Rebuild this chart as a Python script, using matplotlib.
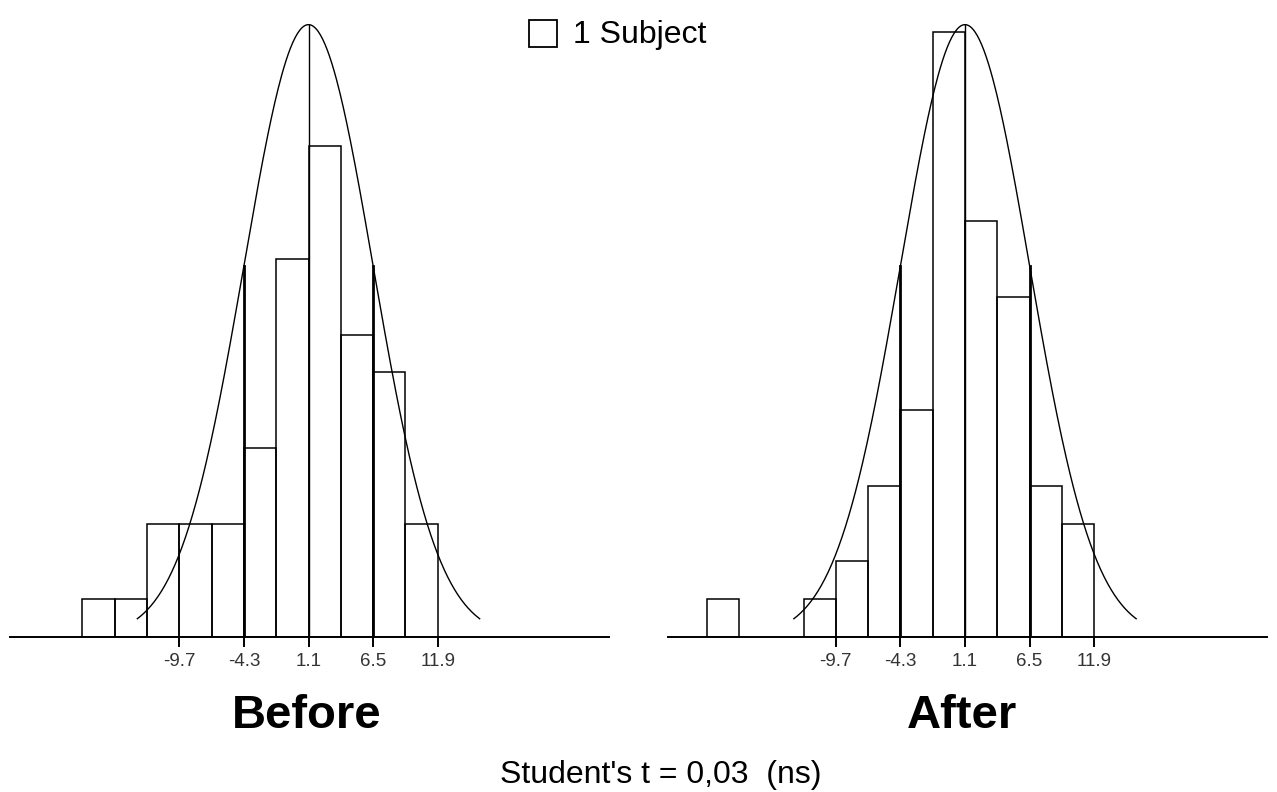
import numpy as np
import matplotlib
matplotlib.use("Agg")
import matplotlib.pyplot as plt
from matplotlib.patches import Rectangle

plt.rcParams['font.family'] = ['Liberation Sans', 'DejaVu Sans']

# histogram data (subjects per bin of width 2.7)
bin_width = 2.7
before_start = -17.8
before_counts = [1, 1, 3, 3, 3, 5, 10, 13, 8, 7, 3]
after_start = -20.5
after_counts = [1, 0, 0, 1, 2, 4, 6, 16, 11, 9, 4, 3]

# fitted normal curve
mean = 1.1
sd = 5.4
curve_peak = 16.2
curve_span = 2.65  # in sd units

tick_vals = [-9.7, -4.3, 1.1, 6.5, 11.9]
tick_labels = ['-9.7', '-4.3', '1.1', '6.5', '11.9']

W, H = 1277, 792
fig = plt.figure(figsize=(W / 100, H / 100), dpi=100)

px_per_unit = 11.96
px_per_subject = 37.8
base_px = 637
top_px = 17


def make_axes(left_px, right_px, center_px):
    ax = fig.add_axes([left_px / W, (H - base_px) / H,
                       (right_px - left_px) / W, (base_px - top_px) / H])
    ax.set_xlim(mean - (center_px - left_px) / px_per_unit,
                mean + (right_px - center_px) / px_per_unit)
    ax.set_ylim(0, (base_px - top_px) / px_per_subject)
    for s in ['top', 'left', 'right']:
        ax.spines[s].set_visible(False)
    ax.spines['bottom'].set_linewidth(1.4)
    ax.set_yticks([])
    ax.set_xticks(tick_vals)
    ax.set_xticklabels(tick_labels, fontsize=13.5, color='#333333')
    ax.tick_params(axis='x', direction='out', length=7, width=1.4, pad=4.5)
    ax.patch.set_alpha(0)
    return ax


def draw_panel(ax, start, counts, title, title_x):
    lefts = [start + i * bin_width for i in range(len(counts))]
    for l, c in zip(lefts, counts):
        if c > 0:
            ax.bar(l, c, width=bin_width, align='edge', fill=False,
                   edgecolor='black', linewidth=1.1)
    xs = np.linspace(mean - curve_span * sd, mean + curve_span * sd, 300)
    ys = curve_peak * np.exp(-0.5 * ((xs - mean) / sd) ** 2)
    ax.plot(xs, ys, color='black', linewidth=1.0)
    for k, lw in [(-1, 2.0), (0, 1.0), (1, 2.0)]:
        xv = mean + k * sd
        yv = curve_peak * np.exp(-0.5 * k ** 2)
        ax.plot([xv, xv], [0, yv], color='black', linewidth=lw)
    fig.text(title_x / W, 1 - 716 / H, title, ha='center', va='center',
             fontsize=34, fontweight='bold')


ax1 = make_axes(10, 609, 308.5)
draw_panel(ax1, before_start, before_counts, 'Before', 307)
ax2 = make_axes(668, 1267, 965)
draw_panel(ax2, after_start, after_counts, 'After', 962)

# legend: one box = 1 subject
fig.patches.append(Rectangle((529 / W, 1 - 47 / H), 28 / W, 27 / H,
                             transform=fig.transFigure, fill=False,
                             edgecolor='black', linewidth=1.3))
fig.text(573 / W, 1 - 35 / H, '1 Subject', ha='left', va='center', fontsize=23)

fig.text(661 / W, 1 - 775 / H, "Student's t = 0,03  (ns)", ha='center',
         va='center', fontsize=23)

fig.savefig('out.png', dpi=100, facecolor='white')
